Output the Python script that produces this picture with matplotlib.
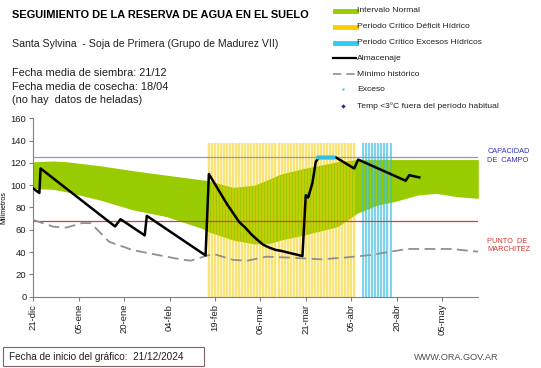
import matplotlib
matplotlib.use("Agg")
import matplotlib.pyplot as plt
from matplotlib.lines import Line2D
from matplotlib.patches import Rectangle

plt.rcParams['font.family'] = ['Liberation Sans', 'DejaVu Sans']

# days since 21-dic
tick_days = [0, 15, 30, 45, 60, 75, 90, 105, 120, 135]
tick_labels = ['21-dic', '05-ene', '20-ene', '04-feb', '19-feb', '06-mar',
               '21-mar', '05-abr', '20-abr', '05-may']

# almacenaje (black line)
alm_days = [0, 2, 2.4, 27, 28.8, 36.8, 37.5, 56.9, 58, 60, 62, 64, 66, 68, 70, 72,
            74, 76, 78, 80, 82, 85, 88.9, 90, 90.8, 92.2, 93.3, 94.4, 99.9, 106,
            107.3, 123, 124.2, 127.5]
alm_vals = [97, 93, 115, 63, 69.5, 55, 72.5, 37, 110, 101, 92, 83, 75, 67, 62, 56,
            51, 46.5, 44, 42, 41, 39, 36.5, 91, 89, 102, 121, 125, 125, 115,
            123, 104, 109, 107]

# intervalo normal (green band)
band_days = [0, 6.6, 11, 22, 33, 44, 56, 58, 66, 73, 78.4, 81.7, 89.4, 100.5,
             107, 113.7, 119.2, 127, 133, 140, 147]
band_hi = [121, 121.7, 121, 117.5, 113, 109, 104.7, 104, 98, 100, 106, 110, 115, 121,
           123, 123, 123, 123, 123, 123, 123]
band_lo = [97, 96.3, 94, 86.7, 77.8, 71.8, 61, 58, 50.8, 47.3, 47.9, 50.8, 55.3, 62.8,
           74.8, 82.2, 85.2, 91.2, 92.7, 89.7, 88.2]

# minimo historico (dashed grey)
min_days = [0, 6.6, 11, 16, 19, 25, 32.7, 40, 48.6, 52, 57, 59.6, 66, 70.7, 77,
            85, 95, 103.8, 111.5, 118, 123.6, 131, 138, 147]
min_vals = [68.8, 62.8, 62, 66, 66, 49.3, 41.9, 38, 33.5, 32.3, 36.5, 38.3, 33, 32.3,
            35.9, 35, 33.5, 35.3, 37.4, 40.4, 42.8, 42.8, 42.8, 40.4]

# critical periods and excess
deficit_days = list(range(58, 107))
exceso_crit_days = list(range(109, 119))
exceso_days = [94, 95, 96, 97, 98, 99]
exceso_vals = [125, 125, 125, 125, 125, 125]

capacidad_campo = 125
punto_marchitez = 68

fig = plt.figure(figsize=(5.41, 3.68), dpi=100)
ax = fig.add_axes([0.0616, 0.1938, 0.8225, 0.4847])

# critical period stripes
ax.axvspan(deficit_days[0] - 0.5, deficit_days[-1] + 0.5, ymax=137.5 / 160,
           color='#fff2b0', alpha=0.6, lw=0, zorder=0.5)
ax.axvspan(exceso_crit_days[0] - 0.5, exceso_crit_days[-1] + 0.5, ymax=137.5 / 160,
           color='#d8f2fa', alpha=0.6, lw=0, zorder=0.5)

ax.fill_between(band_days, band_lo, band_hi, color='#99cc00', lw=0, zorder=1)

ax.vlines(deficit_days, 0, 137.5, colors='#f5cc10', lw=1.1, alpha=0.6, zorder=2)
ax.vlines(exceso_crit_days, 0, 137.5, colors='#33bbe0', lw=1.1, alpha=0.75, zorder=2)

ax.axhline(capacidad_campo, color='#8a9ec0', lw=0.9, zorder=3)
ax.axhline(punto_marchitez, color='#d04040', lw=0.9, zorder=3)

ax.plot(min_days, min_vals, color='#909090', lw=1.3, dashes=(6, 3), zorder=4)
ax.plot(alm_days, alm_vals, color='black', lw=1.8, zorder=5)
ax.plot(exceso_days, exceso_vals, 's', color='#33c0e0', ms=2.5, mec='none', zorder=6)

ax.set_xlim(0, 147)
ax.set_ylim(0, 160)
ax.set_yticks(range(0, 161, 20))
ax.set_xticks(tick_days)
ax.set_xticklabels(tick_labels, rotation=90)
ax.tick_params(axis='both', labelsize=6.8, color='#808080', length=3, pad=2,
               labelcolor='#202020')
for s in ['top', 'right']:
    ax.spines[s].set_visible(False)
for s in ['left', 'bottom']:
    ax.spines[s].set_color('#808080')
ax.set_ylabel('Milímetros', fontsize=5, labelpad=2)

ax.text(1.02, 126 / 160, 'CAPACIDAD\nDE  CAMPO', transform=ax.transAxes, color='#3333bb',
        fontsize=5.3, va='center', ha='left', linespacing=1.3)
ax.text(1.02, 46 / 160, 'PUNTO  DE\nMARCHITEZ', transform=ax.transAxes, color='#dd3333',
        fontsize=5.3, va='center', ha='left', linespacing=1.3)

W, H = 541, 368


def fx(px):
    return px / W


def fy(py):
    return 1 - py / H


fig.text(fx(12), fy(15), 'SEGUIMIENTO DE LA RESERVA DE AGUA EN EL SUELO',
         fontsize=7.9, fontweight='bold', va='center')
fig.text(fx(12), fy(44), 'Santa Sylvina  - Soja de Primera (Grupo de Madurez VII)',
         fontsize=7.6, va='center', color='#202020')
fig.text(fx(12), fy(73), 'Fecha media de siembra: 21/12', fontsize=7.9, va='center', color='#202020')
fig.text(fx(12), fy(86.5), 'Fecha media de cosecha: 18/04', fontsize=7.9, va='center', color='#202020')
fig.text(fx(12), fy(100), '(no hay  datos de heladas)', fontsize=7.9, va='center', color='#202020')

# legend
legend_rows = [
    ('Intervalo Normal', dict(color='#99cc00', lw=3.5), 11),
    ('Periodo Crítico Déficit Hídrico', dict(color='#ffcc00', lw=3.5), 26.7),
    ('Periodo Crítico Excesos Hídricos', dict(color='#33ccee', lw=3.5), 42.7),
    ('Almacenaje', dict(color='black', lw=1.6), 58.3),
    ('Mínimo histórico', dict(color='#909090', lw=1.2, dashes=(5, 3)), 74),
]
for label, style, py in legend_rows:
    x0 = 335 if style['lw'] > 3 else 333
    fig.add_artist(Line2D([fx(x0), fx(356)], [fy(py), fy(py)], **style))
    fig.text(fx(357), fy(py), label, fontsize=6.1, va='center', color='#202020')

fig.add_artist(Line2D([fx(343)], [fy(89.3)], marker='s', color='#33c0e0', ms=2, mec='none'))
fig.text(fx(357), fy(89.3), 'Exceso', fontsize=6.1, va='center', color='#202020')
fig.add_artist(Line2D([fx(343)], [fy(106)], marker='D', color='#1a2a9a', ms=2.2, mec='none'))
fig.text(fx(357), fy(106), 'Temp <3°C fuera del período habitual', fontsize=6.1,
         va='center', color='#202020')

# footer
fig.add_artist(Rectangle((fx(3), fy(366)), fx(201), 19 / H, fill=False,
                         ec='#806060', lw=0.8))
fig.text(fx(9), fy(356.5), 'Fecha de inicio del gráfico:  21/12/2024', fontsize=7.2,
         va='center', color='#202020')
fig.text(fx(498), fy(358), 'WWW.ORA.GOV.AR', fontsize=6.6, va='center', ha='right', color='#505050')

fig.savefig('out.png', dpi=100)
